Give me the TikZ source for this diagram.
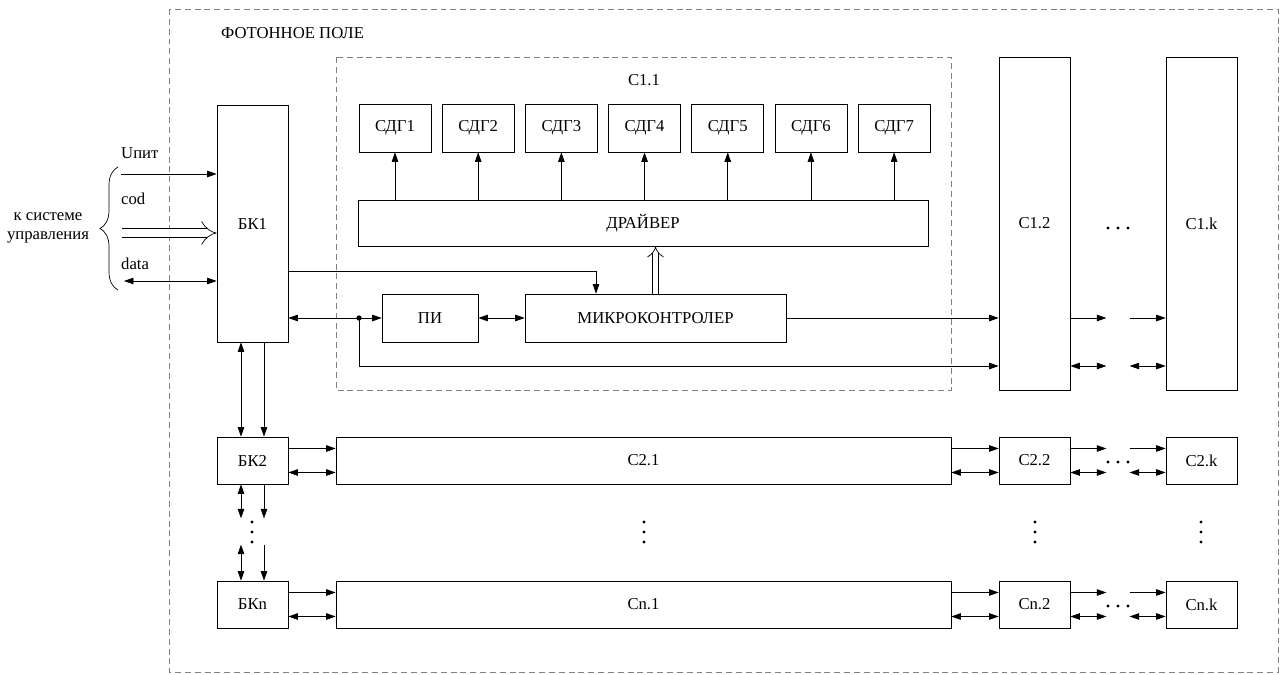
\documentclass[tikz,border=0pt]{standalone}
\usepackage{amsmath,amssymb}
\usepackage{fontspec}
\setmainfont{Liberation Serif}
\usetikzlibrary{arrows.meta, positioning, calc, decorations.pathreplacing}

\begin{document}
\begin{tikzpicture}[
    x=0.02cm, y=-0.02cm,
    font=\fontsize{9.5}{11}\selectfont,
    box/.style={rectangle, draw, inner sep=0pt},
    sdg/.style={box, minimum width=1.44cm, minimum height=0.96cm},
    small/.style={box, minimum width=1.42cm, minimum height=0.94cm},
    tall/.style={box, minimum width=1.42cm, minimum height=6.66cm},
    wide/.style={box, minimum width=12.3cm, minimum height=0.94cm},
    arrow/.style={-{Triangle[length=1.9mm, width=1.3mm]}},
    biarrow/.style={{Triangle[length=1.9mm, width=1.3mm]}-{Triangle[length=1.9mm, width=1.3mm]}},
    bus/.style={double, double distance=3pt, -{Implies}},
    frame/.style={draw=gray, dash pattern=on 3.4pt off 2.2pt},
    pt/.style={circle, fill, inner sep=0pt, minimum size=1.9pt}
]
\useasboundingbox (0,0) rectangle (1281,675);

% photon field and cell C1.1
\draw[frame] (169,9) rectangle (1278,672);
\node[anchor=west] (title) at (215,33) {ФОТОННОЕ ПОЛЕ};
\draw[frame] (336,57) rectangle (951,390);
\node (c11) at (644,80) {С1.1};

% first row
\node[box, minimum width=1.42cm, minimum height=4.74cm] (bk1) at (252.5,223.5) {БК1};
\node[sdg] (sdg1) at (395,128) {СДГ1};
\node[sdg, right=0.21cm of sdg1] (sdg2) {СДГ2};
\node[sdg, right=0.21cm of sdg2] (sdg3) {СДГ3};
\node[sdg, right=0.21cm of sdg3] (sdg4) {СДГ4};
\node[sdg, right=0.21cm of sdg4] (sdg5) {СДГ5};
\node[sdg, right=0.21cm of sdg5] (sdg6) {СДГ6};
\node[sdg, right=0.21cm of sdg6] (sdg7) {СДГ7};
\node[box, minimum width=11.4cm, minimum height=0.92cm] (drv) at (643,223) {ДРАЙВЕР};
\node[box, minimum width=5.22cm, minimum height=0.96cm] (mc) at (655.5,318) {МИКРОКОНТРОЛЕР};
\node[box, minimum width=1.92cm, minimum height=0.96cm] (pi) at (430,318) {ПИ};
\node[tall] (c12) at (1034.5,223.5) {С1.2};
\node[tall] (c1k) at (1201.5,223.5) {С1.k};
\node[pt] at (1108,228) {}; \node[pt] at (1118,228) {}; \node[pt] at (1128,228) {};

\draw[arrow] (drv.north -| sdg1) -- (sdg1);
\draw[arrow] (drv.north -| sdg2) -- (sdg2);
\draw[arrow] (drv.north -| sdg3) -- (sdg3);
\draw[arrow] (drv.north -| sdg4) -- (sdg4);
\draw[arrow] (drv.north -| sdg5) -- (sdg5);
\draw[arrow] (drv.north -| sdg6) -- (sdg6);
\draw[arrow] (drv.north -| sdg7) -- (sdg7);
\draw[bus] (mc.north) -- (mc.north |- drv.south);

\draw[arrow] ([yshift=-0.95cm]bk1.east) -| ([xshift=-1.19cm]mc.north);
\draw[biarrow] (pi.west -| bk1.east) -- (pi.west);
\node[circle, fill, inner sep=0pt, minimum size=3pt] (jn) at (359,318) {};
\draw[arrow] (jn.center) |- ($(mc -| c12.west)+(0,48)$);
\draw[biarrow] (pi) -- (mc);
\draw[arrow] (mc) -- (mc -| c12.west);
\draw[arrow] (mc -| c12.east) -- ++(36,0);
\draw[arrow] ($(mc -| c1k.west)+(-36,0)$) -- (mc -| c1k.west);
\draw[biarrow] ($(mc -| c12.east)+(0,48)$) -- ++(36,0);
\draw[biarrow] ($(mc -| c1k.west)+(-36,48)$) -- ($(mc -| c1k.west)+(0,48)$);

% control system inputs
\coordinate (upit) at (121,174);
\coordinate (cod) at (122,233);
\coordinate (data) at (124,281);
\node[anchor=west] (lupit) at (115,153) {Uпит};
\node[anchor=west] (lcod) at (115,199) {cod};
\node[anchor=west] (ldata) at (115,264) {data};
\draw[arrow] (upit) -- (upit -| bk1.west);
\draw[double, double distance=4.5pt, -{Implies}] (cod) -- (cod -| bk1.west);
\draw[biarrow] (data) -- (data -| bk1.west);
\draw[decorate, decoration={brace, amplitude=0.36cm}] (118,290) -- (118,167);
\node[align=center] (sys) at (48,228) {к системе\\управления};

% second row
\node[small] (bk2) at (252.5,460.5) {БК2};
\node[wide] (c21) at (643.5,460.5) {С2.1};
\node[small] (c22) at (1034.5,460.5) {С2.2};
\node[small] (c2k) at (1201.5,460.5) {С2.k};
\node[pt] at (1108,462) {}; \node[pt] at (1118,462) {}; \node[pt] at (1128,462) {};
\draw[arrow] ([yshift=0.24cm]bk2.east) -- ([yshift=0.24cm]c21.west);
\draw[biarrow] ([yshift=-0.24cm]bk2.east) -- ([yshift=-0.24cm]c21.west);
\draw[arrow] ([yshift=0.24cm]c21.east) -- ([yshift=0.24cm]c22.west);
\draw[biarrow] ([yshift=-0.24cm]c21.east) -- ([yshift=-0.24cm]c22.west);
\draw[arrow] ([yshift=0.24cm]c22.east) -- ++(36,0);
\draw[biarrow] ([yshift=-0.24cm]c22.east) -- ++(36,0);
\draw[arrow] ($([yshift=0.24cm]c2k.west)+(-36,0)$) -- ([yshift=0.24cm]c2k.west);
\draw[biarrow] ($([yshift=-0.24cm]c2k.west)+(-36,0)$) -- ([yshift=-0.24cm]c2k.west);

% last row
\node[small] (bkn) at (252.5,604.5) {БКn};
\node[wide] (cn1) at (643.5,604.5) {Сn.1};
\node[small] (cn2) at (1034.5,604.5) {Сn.2};
\node[small] (cnk) at (1201.5,604.5) {Сn.k};
\node[pt] at (1108,606) {}; \node[pt] at (1118,606) {}; \node[pt] at (1128,606) {};
\draw[arrow] ([yshift=0.24cm]bkn.east) -- ([yshift=0.24cm]cn1.west);
\draw[biarrow] ([yshift=-0.24cm]bkn.east) -- ([yshift=-0.24cm]cn1.west);
\draw[arrow] ([yshift=0.24cm]cn1.east) -- ([yshift=0.24cm]cn2.west);
\draw[biarrow] ([yshift=-0.24cm]cn1.east) -- ([yshift=-0.24cm]cn2.west);
\draw[arrow] ([yshift=0.24cm]cn2.east) -- ++(36,0);
\draw[biarrow] ([yshift=-0.24cm]cn2.east) -- ++(36,0);
\draw[arrow] ($([yshift=0.24cm]cnk.west)+(-36,0)$) -- ([yshift=0.24cm]cnk.west);
\draw[biarrow] ($([yshift=-0.24cm]cnk.west)+(-36,0)$) -- ([yshift=-0.24cm]cnk.west);

% links between control blocks
\draw[biarrow] ([xshift=-0.23cm]bk1.south) -- ([xshift=-0.23cm]bk2.north);
\draw[arrow] ([xshift=0.23cm]bk1.south) -- ([xshift=0.23cm]bk2.north);
\draw[biarrow] ([xshift=-0.23cm]bk2.south) -- ++(0,34);
\draw[arrow] ([xshift=0.23cm]bk2.south) -- ++(0,34);
\draw[biarrow] ($([xshift=-0.23cm]bkn.north)+(0,-36)$) -- ([xshift=-0.23cm]bkn.north);
\draw[arrow] ($([xshift=0.23cm]bkn.north)+(0,-36)$) -- ([xshift=0.23cm]bkn.north);
\node[pt] at (252,522) {}; \node[pt] at (252,532) {}; \node[pt] at (252,542) {};
\node[pt] at (644,522) {}; \node[pt] at (644,532) {}; \node[pt] at (644,542) {};
\node[pt] at (1035,522) {}; \node[pt] at (1035,532) {}; \node[pt] at (1035,542) {};
\node[pt] at (1201,522) {}; \node[pt] at (1201,532) {}; \node[pt] at (1201,542) {};
\end{tikzpicture}
\end{document}
